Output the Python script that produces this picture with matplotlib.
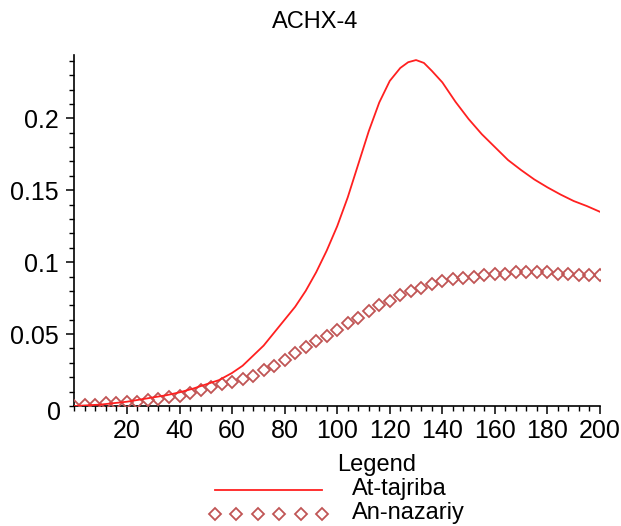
import matplotlib
matplotlib.use("Agg")
import matplotlib.pyplot as plt
from matplotlib.ticker import MultipleLocator, FixedLocator
from matplotlib.lines import Line2D

plt.rcParams['font.family'] = ['Liberation Sans', 'DejaVu Sans']

# Experimental curve (At-tajriba)
exp_x = [0, 5, 10, 15, 20, 25, 30, 35, 40, 45, 50, 55, 60, 64, 68, 72, 76,
         80, 84, 88, 92, 96, 100, 104, 108, 112, 116, 120, 124, 127, 130,
         133, 136, 140, 145, 150, 155, 160, 165, 170, 175, 180, 185, 190,
         195, 200]
exp_y = [0.000, 0.0005, 0.001, 0.002, 0.003, 0.0045, 0.006, 0.0075, 0.0095,
         0.012, 0.015, 0.018, 0.023, 0.028, 0.035, 0.042, 0.051, 0.060, 0.069,
         0.080, 0.093, 0.108, 0.125, 0.145, 0.168, 0.191, 0.211, 0.226, 0.235,
         0.239, 0.2405, 0.2385, 0.233, 0.225, 0.2115, 0.1995, 0.189, 0.180,
         0.171, 0.164, 0.1575, 0.152, 0.147, 0.1425, 0.139, 0.135]

# Theoretical points (An-nazariy)
th_x = list(range(0, 201, 4))
th_y = [0.000, 0.001, 0.001, 0.002, 0.002, 0.003, 0.003, 0.004, 0.005, 0.006,
        0.007, 0.009, 0.011, 0.013, 0.015, 0.017, 0.019, 0.021, 0.025, 0.028,
        0.032, 0.037, 0.041, 0.045, 0.049, 0.053, 0.058, 0.061, 0.066, 0.070,
        0.073, 0.077, 0.080, 0.082, 0.085, 0.087, 0.088, 0.089, 0.090, 0.091,
        0.092, 0.092, 0.093, 0.093, 0.093, 0.093, 0.092, 0.092, 0.091, 0.091,
        0.091]

x_ticks = [20, 40, 60, 80, 100, 120, 140, 160, 180, 200]
y_ticks = [0.05, 0.1, 0.15, 0.2]
y_tick_labels = ["0.05", "0.1", "0.15", "0.2"]

title = "ACHX-4"
legend_title = "Legend"
series_names = ["At-tajriba", "An-nazariy"]

line_color = "#ff2020"
point_color = "#c05555"
FS = 18
LFS = 17

fig = plt.figure(figsize=(6.21, 5.26), dpi=100)
ax = fig.add_axes([0.1198, 0.2281, 0.8464, 0.6673])

ax.plot(exp_x, exp_y, color=line_color, lw=1.3, zorder=3)
ax.plot(th_x, th_y, linestyle="none", marker="D", markersize=6.3,
        markerfacecolor="none", markeredgecolor=point_color,
        markeredgewidth=1.3, zorder=2)

ax.set_xlim(0, 200)
ax.set_ylim(0, 0.244)

for s in ("top", "right"):
    ax.spines[s].set_visible(False)
for s in ("left", "bottom"):
    ax.spines[s].set_color("black")
    ax.spines[s].set_linewidth(1.2)
    ax.spines[s].set_zorder(1)

ax.xaxis.set_major_locator(FixedLocator(x_ticks))
ax.xaxis.set_minor_locator(MultipleLocator(4))
ax.yaxis.set_major_locator(FixedLocator(y_ticks))
ax.yaxis.set_minor_locator(MultipleLocator(0.01))
ax.set_yticklabels(y_tick_labels)

ax.tick_params(axis="both", which="major", direction="out", length=6,
               width=1.1, labelsize=FS, color="black", pad=3)
ax.tick_params(axis="both", which="minor", direction="out", length=3.5,
               width=1.0, color="black")
ax.tick_params(axis="x", which="major", pad=3)
ax.tick_params(axis="y", which="major", pad=5)

# origin label sits just below the axis
ax.text(-0.025, -0.005, "0", transform=ax.get_yaxis_transform(),
        ha="right", va="center", fontsize=FS)

fig.text(0.507, 0.958, title, ha="center", va="center", fontsize=17)

# legend block under the plot
fig.text(0.607, 1 - 465 / 526, legend_title, ha="center", va="center",
         fontsize=LFS)
fig.add_artist(Line2D([215 / 621, 322 / 621], [1 - 490 / 526, 1 - 490 / 526],
                      color=line_color, lw=1.3, transform=fig.transFigure))
fig.text(352 / 621, 1 - 489 / 526, series_names[0], ha="left", va="center",
         fontsize=LFS)
lx = [215 + i * 21.4 for i in range(6)]
fig.add_artist(Line2D([v / 621 for v in lx], [1 - 514 / 526] * 6,
                      linestyle="none", marker="D", markersize=6.3,
                      markerfacecolor="none", markeredgecolor=point_color,
                      markeredgewidth=1.3, transform=fig.transFigure))
fig.text(352 / 621, 1 - 513 / 526, series_names[1], ha="left", va="center",
         fontsize=LFS)

fig.savefig("out.png", dpi=100, facecolor="white")
